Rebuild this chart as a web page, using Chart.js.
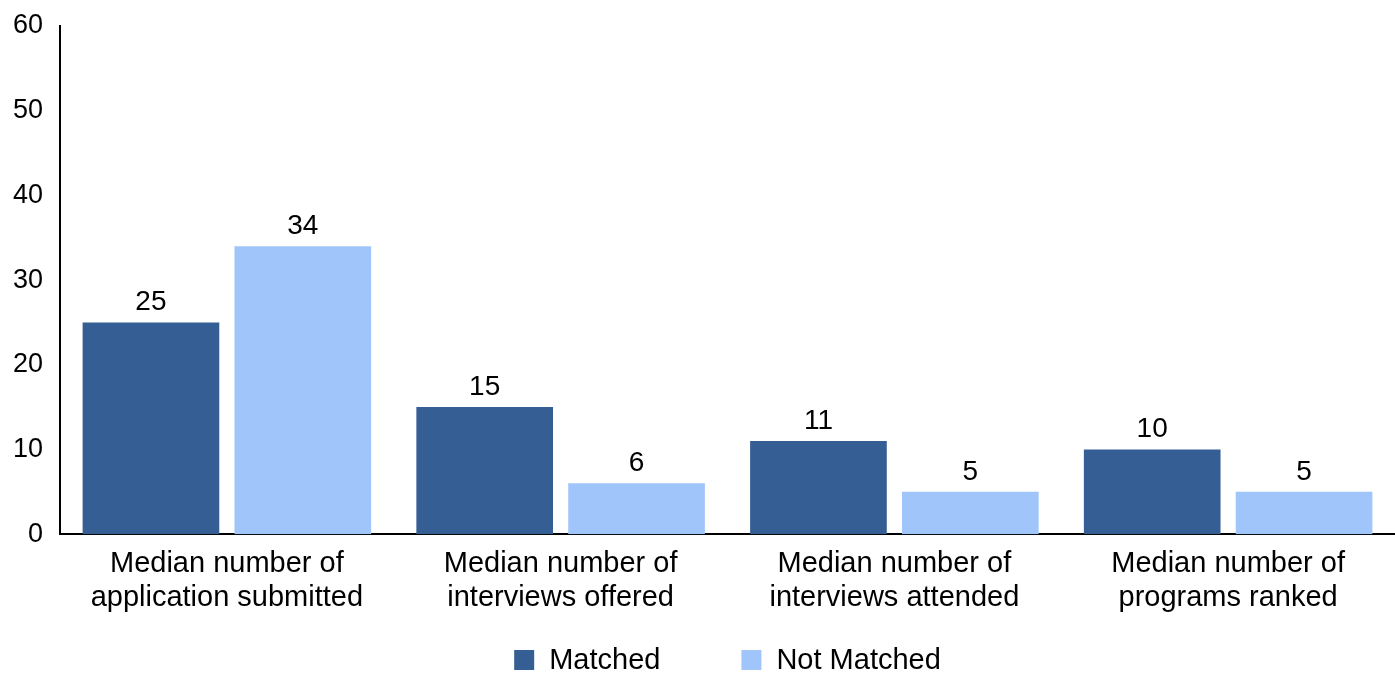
<!DOCTYPE html>
<html>
<head>
<meta charset="utf-8">
<script src="https://cdn.jsdelivr.net/npm/chart.js@4/dist/chart.umd.min.js"></script>
<style>
  html, body { margin:0; padding:0; background:#fff; }
  #wrap { width:1395px; height:673px; }
</style>
</head>
<body>
<div id="wrap"><canvas id="chart"></canvas></div>
<script>
// ========== DATA ==========
const categories = [
  ['Median number of', 'application submitted'],
  ['Median number of', 'interviews offered'],
  ['Median number of', 'interviews attended'],
  ['Median number of', 'programs ranked']
];
const matched    = [25, 15, 11, 10];
const notMatched = [34, 6, 5, 5];
const yTicks     = [0, 10, 20, 30, 40, 50, 60];

const DARK  = '#355f94';
const LIGHT = '#a0c5fb';
const FONT  = "'Liberation Sans', Arial, sans-serif";

// value labels above each bar
const valueLabels = {
  id: 'valueLabels',
  afterDatasetsDraw(chart){
    const ctx = chart.ctx;
    ctx.save();
    ctx.font = `28px ${FONT}`;
    ctx.fillStyle = '#000';
    ctx.textAlign = 'center';
    ctx.textBaseline = 'alphabetic';
    chart.data.datasets.forEach((ds, i)=>{
      chart.getDatasetMeta(i).data.forEach((bar, j)=>{
        ctx.fillText(ds.data[j], bar.x, bar.y - 12);
      });
    });
    ctx.restore();
  }
};

// legend at bottom, wide spacing between items
const bottomLegend = {
  id: 'bottomLegend',
  afterDraw(chart){
    const ctx = chart.ctx, area = chart.chartArea;
    const box = 20, gap = 15, spacing = 81, y = 660;
    ctx.save();
    ctx.font = `29px ${FONT}`;
    ctx.textBaseline = 'middle';
    const items = chart.data.datasets.map(ds => ({
      text: ds.label, color: ds.backgroundColor, w: box + gap + ctx.measureText(ds.label).width
    }));
    const total = items.reduce((s,it)=>s+it.w,0) + spacing*(items.length-1);
    let x = (area.left + area.right)/2 - total/2;
    items.forEach(it=>{
      ctx.fillStyle = it.color;
      ctx.fillRect(x, y - box/2, box, box);
      ctx.fillStyle = '#000';
      ctx.fillText(it.text, x + box + gap, y + 1);
      x += it.w + spacing;
    });
    ctx.restore();
  }
};

new Chart(document.getElementById('chart'), {
  type: 'bar',
  data: {
    labels: categories,
    datasets: [
      { label:'Matched',     data: matched,    backgroundColor: DARK },
      { label:'Not Matched', data: notMatched, backgroundColor: LIGHT }
    ]
  },
  options: {
    responsive: true,
    maintainAspectRatio: false,
    animation: false,
    categoryPercentage: 0.91,
    barPercentage: 0.9,
    layout: { padding: { top: 26, right: 0, left: 0, bottom: 45 } },
    plugins: {
      legend: { display:false },
      tooltip: { enabled:false }
    },
    scales: {
      x: {
        grid: { display:false, drawTicks:false },
        border: { display:true, color:'#000', width:2 },
        ticks: { font:{ family:FONT, size:29, lineHeight:1.17 }, color:'#000', padding:13, maxRotation:0 }
      },
      y: {
        min: 0, max: 60,
        afterBuildTicks: axis => { axis.ticks = yTicks.map(v => ({ value:v })); },
        afterFit: axis => { axis.width = 60; axis.paddingTop = 0; axis.paddingBottom = 0; },
        grid: { display:false, drawTicks:false },
        border: { display:true, color:'#000', width:2 },
        ticks: { font:{ family:FONT, size:27 }, color:'#000', padding:17 }
      }
    }
  },
  plugins: [valueLabels, bottomLegend]
});
</script>
</body>
</html>
